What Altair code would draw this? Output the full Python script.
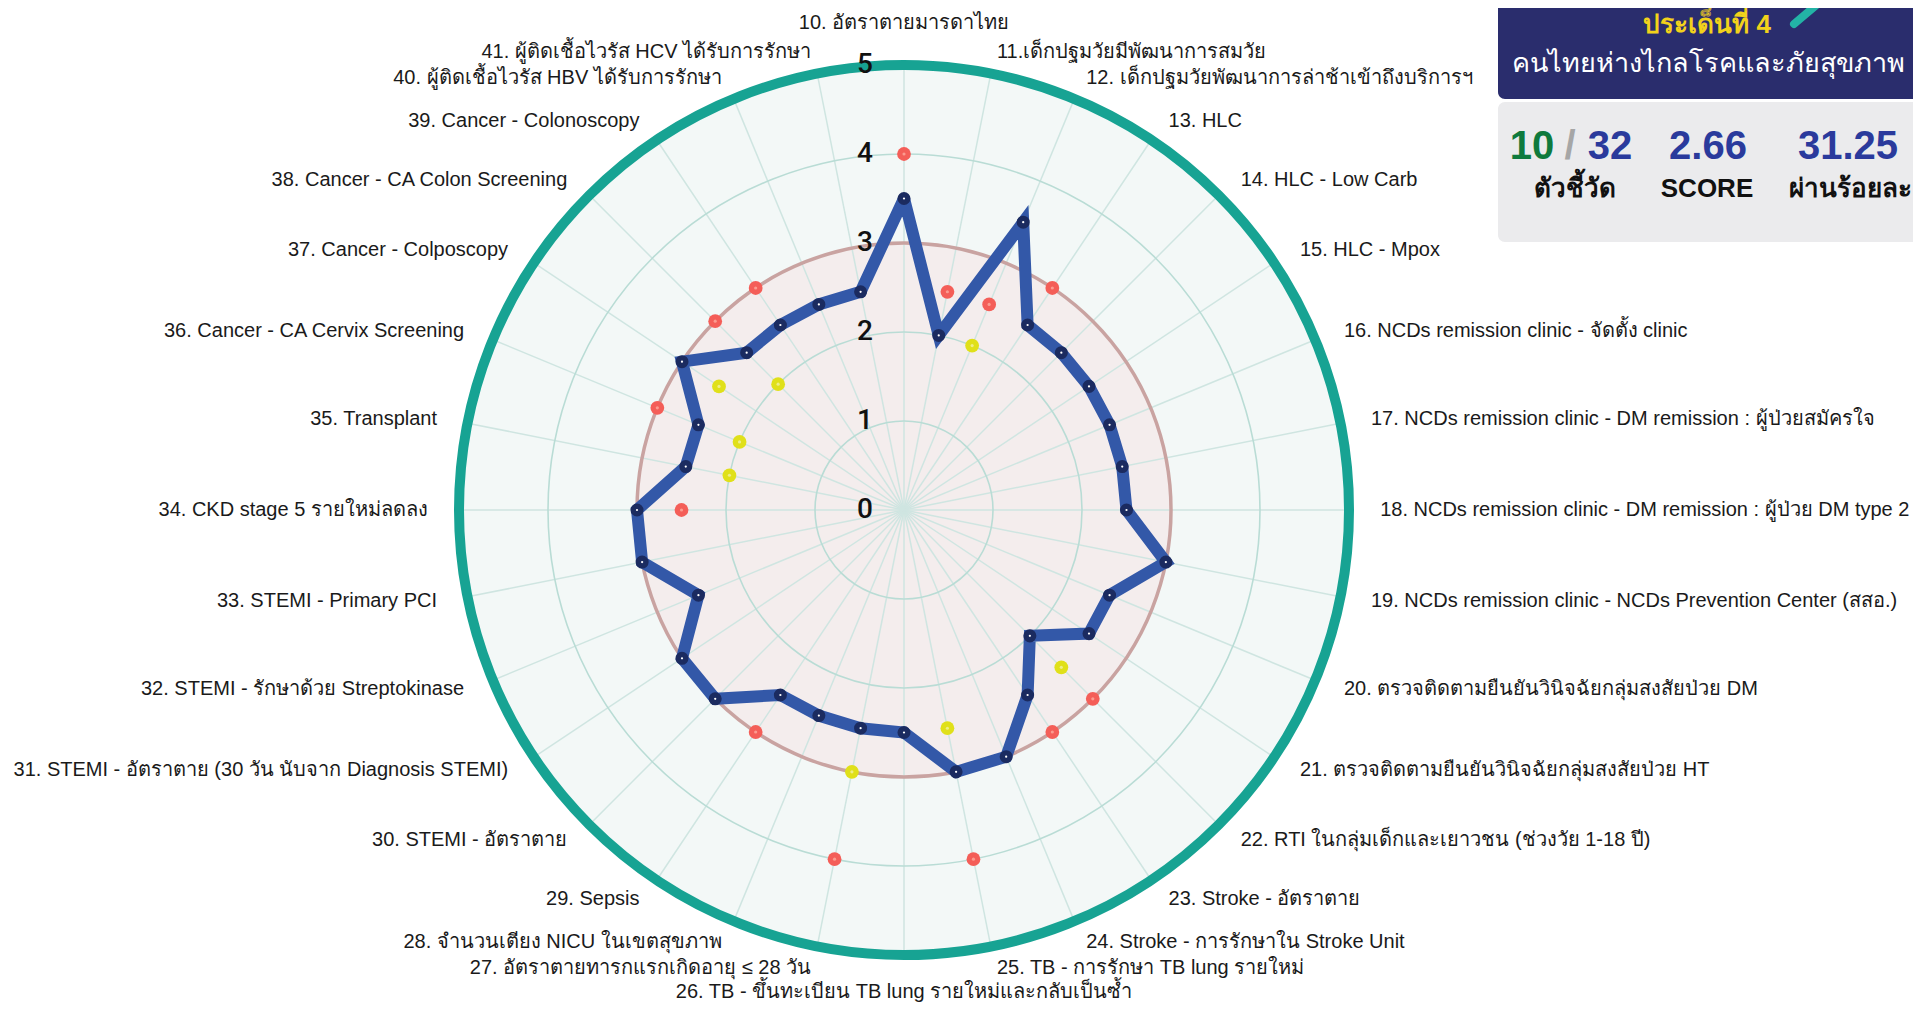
import math
import altair as alt
import pandas as pd

# ---------------- data ----------------
labels = [
    "10. อัตราตายมารดาไทย",
    "11.เด็กปฐมวัยมีพัฒนาการสมวัย",
    "12. เด็กปฐมวัยพัฒนาการล่าช้าเข้าถึงบริการฯ",
    "13. HLC",
    "14. HLC - Low Carb",
    "15. HLC -  Mpox",
    "16. NCDs remission clinic - จัดตั้ง clinic",
    "17. NCDs remission clinic - DM remission : ผู้ป่วยสมัครใจ",
    "18. NCDs remission clinic - DM remission : ผู้ป่วย DM type 2",
    "19. NCDs remission clinic - NCDs Prevention Center (สสอ.)",
    "20. ตรวจติดตามยืนยันวินิจฉัยกลุ่มสงสัยป่วย DM",
    "21. ตรวจติดตามยืนยันวินิจฉัยกลุ่มสงสัยป่วย HT",
    "22. RTI ในกลุ่มเด็กและเยาวชน (ช่วงวัย 1-18 ปี)",
    "23. Stroke - อัตราตาย",
    "24. Stroke - การรักษาใน Stroke Unit",
    "25. TB - การรักษา TB lung รายใหม่",
    "26. TB - ขึ้นทะเบียน TB lung รายใหม่และกลับเป็นซ้ำ",
    "27. อัตราตายทารกแรกเกิดอายุ ≤ 28 วัน",
    "28. จำนวนเตียง NICU ในเขตสุขภาพ",
    "29. Sepsis",
    "30. STEMI - อัตราตาย",
    "31. STEMI - อัตราตาย (30 วัน นับจาก Diagnosis STEMI)",
    "32. STEMI - รักษาด้วย Streptokinase",
    "33. STEMI - Primary PCI",
    "34. CKD stage 5 รายใหม่ลดลง",
    "35. Transplant",
    "36. Cancer - CA Cervix Screening",
    "37. Cancer - Colposcopy",
    "38. Cancer - CA Colon Screening",
    "39. Cancer - Colonoscopy",
    "40.  ผู้ติดเชื้อไวรัส HBV ได้รับการรักษา",
    "41. ผู้ติดเชื้อไวรัส HCV ได้รับการรักษา",
]

score_values = [3.5, 2.0, 3.5, 2.5, 2.5, 2.5, 2.5, 2.5, 2.5, 3.0,
                2.5, 2.5, 2.0, 2.5, 3.0, 3.0, 2.5, 2.5, 2.5, 2.5,
                3.0, 3.0, 2.5, 3.0, 3.0, 2.5, 2.5, 3.0, 2.5, 2.5,
                2.5, 2.5]

red_values = [4.0, 2.5, 2.5, 3.0, None, None, None, None, None, None,
              None, None, 3.0, 3.0, None, 4.0, None, 4.0, None, 3.0,
              None, None, None, None, 2.5, None, 3.0, None, 3.0, 3.0,
              None, None]

yellow_values = [None, None, 2.0, None, None, None, None, None, None, None,
                 None, None, 2.5, None, None, 2.5, None, 3.0, None, None,
                 None, None, None, None, None, 2.0, 2.0, 2.5, 2.0, None,
                 None, None]

ring_values = [1, 2, 3, 4, 5]
tick_values = [0, 1, 2, 3, 4, 5]

total = len(score_values)
passed = sum(1 for v in score_values if v >= 3)
score = sum(score_values) / total
percent = passed / total * 100

# ---------------- layout ----------------
W, H = 1905, 994
U = 89.0            # px per unit
CX, CY = 896, 502   # centre in plot px
XDOM = [-CX / U, (W - CX) / U]
YDOM = [-(H - CY) / U, CY / U]
xs = alt.Scale(domain=XDOM, nice=False, zero=False)
ys = alt.Scale(domain=YDOM, nice=False, zero=False)
rs = alt.Scale(type="linear", domain=[0, 5], range=[0, 5 * U], zero=True, nice=False)

FONT = "Liberation Sans"

df = pd.DataFrame({
    "idx": list(range(total)),
    "label": labels,
    "score": score_values,
    "red": red_values,
    "yellow": yellow_values,
})
line_df = pd.DataFrame({
    "idx": list(range(total)) + [total],
    "score": score_values + [score_values[0]],
})
ring_df = pd.DataFrame({"ring": ring_values})
tick_df = pd.DataFrame({"tick": tick_values, "txt": [str(t) for t in tick_values]})

TH = "datum.idx * PI / 16"


def xy(v):
    return {"px": f"{v} * sin({TH})", "py": f"{v} * cos({TH})"}


X = alt.X("px:Q", scale=xs, axis=None)
Y = alt.Y("py:Q", scale=ys, axis=None)


def disc(r_filter, **kw):
    return (alt.Chart(ring_df)
            .transform_filter(r_filter)
            .transform_calculate(c="0")
            .mark_arc(theta=0, theta2=2 * math.pi, **kw)
            .encode(x=alt.X("c:Q", scale=xs, axis=None),
                    y=alt.Y("c:Q", scale=ys, axis=None),
                    radius=alt.Radius("ring:Q", scale=rs, stack=False)))


bg_outer = disc("datum.ring == 5", fill="#f3f8f7", strokeOpacity=0)
bg_inner = disc("datum.ring == 3", fill="#f4eded", strokeOpacity=0)

spokes = (alt.Chart(df)
          .transform_calculate(ox="0", oy="0", **{"px": f"5 * sin({TH})", "py": f"5 * cos({TH})"})
          .mark_rule(color="#cfe5e1", strokeWidth=1.5)
          .encode(x=alt.X("ox:Q", scale=xs, axis=None),
                  y=alt.Y("oy:Q", scale=ys, axis=None),
                  x2="px:Q", y2="py:Q"))

rings_thin = [disc(f"datum.ring == {k}", fillOpacity=0, stroke="#b9dcd5", strokeWidth=1.6)
              for k in (1, 2, 4)]
ring3 = disc("datum.ring == 3", fillOpacity=0, stroke="#c9a3a1", strokeWidth=3.5)
ring5 = disc("datum.ring == 5", fillOpacity=0, stroke="#17a393", strokeWidth=10)

tick_text = (alt.Chart(tick_df)
             .transform_calculate(px="-0.44", py="datum.tick")
             .mark_text(font="Roboto", fontSize=28, fontWeight=500, color="#111111",
                        align="center", baseline="middle")
             .encode(x=X, y=Y, text="txt:N"))

radar_line = (alt.Chart(line_df)
              .transform_calculate(**xy("datum.score"))
              .mark_line(color="#3358a8", strokeWidth=12, strokeJoin="miter")
              .encode(x=X, y=Y, order="idx:Q"))

navy_pts = (alt.Chart(df)
            .transform_calculate(**xy("datum.score"))
            .mark_circle(color="#1b2b60", opacity=1, size=170)
            .encode(x=X, y=Y))
navy_ctr = (alt.Chart(df)
            .transform_calculate(**xy("datum.score"))
            .mark_circle(color="#ffffff", opacity=1, size=5)
            .encode(x=X, y=Y))

red_pts = (alt.Chart(df)
           .transform_filter("isValid(datum.red)")
           .transform_calculate(**xy("datum.red"))
           .mark_circle(color="#f45e58", opacity=1, size=190)
           .encode(x=X, y=Y))
red_ctr = (alt.Chart(df)
           .transform_filter("isValid(datum.red)")
           .transform_calculate(**xy("datum.red"))
           .mark_circle(color="#fb9b8f", opacity=1, size=10)
           .encode(x=X, y=Y))
yel_pts = (alt.Chart(df)
           .transform_filter("isValid(datum.yellow)")
           .transform_calculate(**xy("datum.yellow"))
           .mark_circle(color="#e0e01a", opacity=1, size=190)
           .encode(x=X, y=Y))
yel_ctr = (alt.Chart(df)
           .transform_filter("isValid(datum.yellow)")
           .transform_calculate(**xy("datum.yellow"))
           .mark_circle(color="#eeee88", opacity=1, size=10)
           .encode(x=X, y=Y))

LAB = dict(font=FONT, fontSize=20, color="#1a1a1a")
lab_xy = {"px": f"5.35 * sin({TH})", "py": f"5.25 * cos({TH})"}
lab_right = (alt.Chart(df).transform_filter("datum.idx > 0 && datum.idx < 16")
             .transform_calculate(**lab_xy)
             .mark_text(align="left", baseline="middle", **LAB)
             .encode(x=X, y=Y, text="label:N"))
lab_left = (alt.Chart(df).transform_filter("datum.idx > 16")
            .transform_calculate(**lab_xy)
            .mark_text(align="right", baseline="middle", **LAB)
            .encode(x=X, y=Y, text="label:N"))
lab_top = (alt.Chart(df).transform_filter("datum.idx == 0")
           .transform_calculate(px="0", py="5.36")
           .mark_text(align="center", baseline="bottom", **LAB)
           .encode(x=X, y=Y, text="label:N"))
lab_bot = (alt.Chart(df).transform_filter("datum.idx == 16")
           .transform_calculate(px="0", py="-5.42")
           .mark_text(align="center", baseline="middle", **LAB)
           .encode(x=X, y=Y, text="label:N"))

# ---------------- info box ----------------
box_df = pd.DataFrame({"k": [0]})
navy_box = alt.Chart(box_df).mark_rect(color="#2a2d6d", cornerRadius=7).encode(
    x=alt.value(1490), x2=alt.value(1925), y=alt.value(-20), y2=alt.value(91))
gray_box = alt.Chart(box_df).mark_rect(color="#ebebed", cornerRadius=7).encode(
    x=alt.value(1490), x2=alt.value(1925), y=alt.value(94), y2=alt.value(234))
arrow = alt.Chart(box_df).mark_rule(color="#23b3a6", strokeWidth=8, strokeCap="round").encode(
    x=alt.value(1786), y=alt.value(16), x2=alt.value(1812), y2=alt.value(-6))


def btxt(s, x, y, size, color, weight="bold"):
    return alt.Chart(box_df).mark_text(text=s, font=FONT, fontSize=size, fontWeight=weight,
                                       color=color, align="center", baseline="middle").encode(
        x=alt.value(x), y=alt.value(y))


box_texts = [
    btxt("ประเด็นที่ 4", 1699, 17, 26, "#f2d21b"),
    btxt("คนไทยห่างไกลโรคและภัยสุขภาพ", 1700, 56, 27, "#ffffff", "normal"),
    btxt(str(passed), 1524, 139, 40, "#0f7a3d"),
    btxt("/", 1562, 139, 40, "#a6a6a6"),
    btxt(str(total), 1602, 139, 40, "#2a3a9c"),
    btxt(f"{score:.2f}", 1700, 139, 40, "#2a3a9c"),
    btxt(f"{percent:.2f}", 1840, 139, 40, "#2a3a9c"),
    btxt("ตัวชี้วัด", 1567, 181, 26, "#111111"),
    btxt("SCORE", 1699, 181, 26, "#111111"),
    btxt("ผ่านร้อยละ", 1842, 181, 26, "#111111"),
]

chart = alt.layer(
    bg_outer, bg_inner, spokes, *rings_thin, ring3, ring5,
    radar_line, navy_pts, navy_ctr, red_pts, red_ctr, yel_pts, yel_ctr,
    tick_text, lab_right, lab_left, lab_top, lab_bot,
    navy_box, gray_box, arrow, *box_texts,
).properties(width=W, height=H, autosize="none", padding=0,
             background="#ffffff").configure_view(strokeOpacity=0)

chart.save("out.html", embed_options={"renderer": "svg", "actions": False})
